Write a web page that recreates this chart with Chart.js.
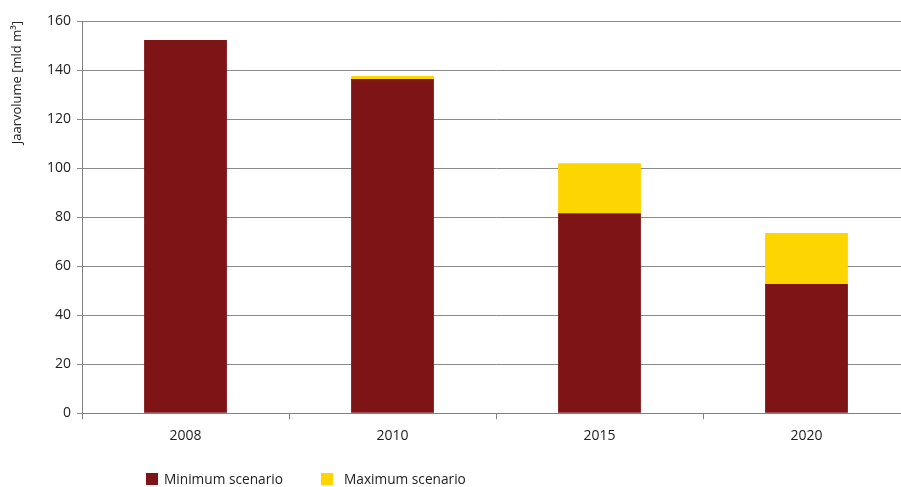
<!DOCTYPE html>
<html>
<head>
<meta charset="utf-8">
<script src="https://cdn.jsdelivr.net/npm/chart.js@4/dist/chart.umd.min.js"></script>
<style>
  html, body { margin: 0; padding: 0; background: #fff; overflow: hidden; }
  #wrap { position: relative; width: 910px; height: 487px; }
  #legend { position: absolute; top: 469px; left: 146px; display: flex; font: 13.7px "Open Sans", sans-serif; color: #222; }
  #legend .item { display: flex; align-items: center; margin-right: 38px; }
  #legend .box { width: 12px; height: 12px; margin-right: 6px; }
  #legend .item:nth-child(2) .box { margin-right: 11px; }
</style>
</head>
<body>
<div id="wrap">
  <canvas id="myChart" width="910" height="487"></canvas>
  <div id="legend"></div>
</div>
<script>
const years = ["2008", "2010", "2015", "2020"];
const minimumScenario = [152.2, 136.3, 81.6, 52.7];
const maximumExtra = [0, 1.3, 20.4, 20.8];
const seriesNames = ["Minimum scenario", "Maximum scenario"];
const seriesColors = ["#7F1416", "#FDD500"];

const font = { family: "'Open Sans', sans-serif", size: 14 };

const ctx = document.getElementById("myChart").getContext("2d");
const myChart = new Chart(ctx, {
  type: "bar",
  data: {
    labels: years,
    datasets: [
      {
        label: seriesNames[0],
        data: minimumScenario,
        backgroundColor: seriesColors[0],
        categoryPercentage: 1,
        barPercentage: 0.4,
      },
      {
        label: seriesNames[1],
        data: maximumExtra,
        backgroundColor: seriesColors[1],
        categoryPercentage: 1,
        barPercentage: 0.4,
      },
    ],
  },
  options: {
    responsive: false,
    animation: false,
    layout: { padding: { top: 21, bottom: 35, left: 0, right: 0 } },
    plugins: {
      legend: { display: false },
      tooltip: { enabled: false },
    },
    scales: {
      x: {
        stacked: true,
        offset: true,
        grid: { offset: true, drawOnChartArea: false, drawTicks: true, tickLength: 6, color: "#808080" },
        border: { color: "#808080" },
        ticks: { font: font, color: "#222", padding: 8 },
      },
      y: {
        stacked: true,
        min: 0,
        max: 160,
        ticks: { stepSize: 20, font: font, color: "#222", padding: 6 },
        grid: { color: "#8a8a8a", tickLength: 5 },
        border: { color: "#808080" },
        title: {
          display: true,
          text: "Jaarvolume [mld m³]",
          align: "end",
          font: { family: "'Open Sans', sans-serif", size: 13 },
          color: "#222",
          padding: { top: 9, bottom: 4 },
        },
        afterFit: (scale) => { scale.width = 82; },
      },
    },
  },
});

const legendEl = document.getElementById("legend");
seriesNames.forEach((name, i) => {
  const item = document.createElement("div");
  item.className = "item";
  const box = document.createElement("span");
  box.className = "box";
  box.style.background = seriesColors[i];
  const txt = document.createElement("span");
  txt.textContent = name;
  item.appendChild(box);
  item.appendChild(txt);
  legendEl.appendChild(item);
});
</script>
</body>
</html>
